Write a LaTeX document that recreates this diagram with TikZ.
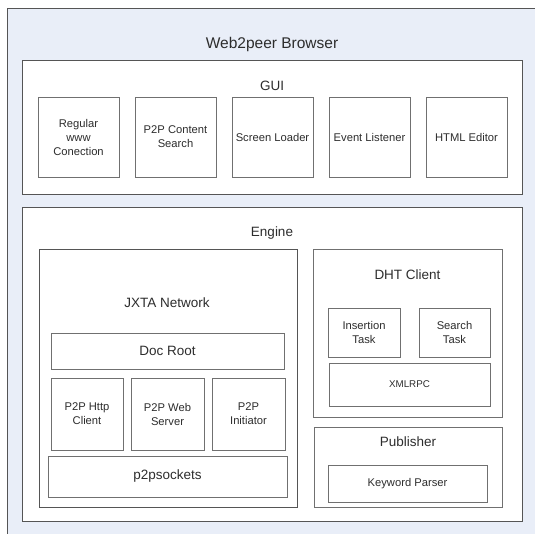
\documentclass[tikz,border=0pt]{standalone}
\usepackage{fontspec}
\setmainfont{Liberation Sans}
\definecolor{bgblue}{RGB}{233,238,248}
\definecolor{outline}{RGB}{85,85,85}
\definecolor{inline}{RGB}{112,112,112}
\definecolor{txt}{RGB}{45,45,45}
\begin{document}
\begin{tikzpicture}[x=1pt,y=-1pt,
  container/.style={draw=outline,fill=white,line width=0.9pt,inner sep=0pt,rectangle},
  part/.style={draw=inline,fill=white,line width=0.9pt,inner sep=0pt,rectangle,align=center,text=txt,font=\fontsize{11.2}{14}\selectfont},
  bigtitle/.style={text=txt,font=\fontsize{15.5}{18}\selectfont,inner sep=0pt},
  midtitle/.style={text=txt,font=\fontsize{13.5}{16}\selectfont,inner sep=0pt},
  midpart/.style={part,font=\fontsize{13.5}{16}\selectfont}]
\useasboundingbox (0,0) rectangle (535,533);
\begin{scope}
\clip (0,0) rectangle (535,533);
\node[draw=outline,fill=bgblue,line width=1pt,inner sep=0pt,minimum width=560pt,minimum height=560pt,anchor=north west] (browser) at (6.5,7.5) {};
\end{scope}
\node[bigtitle] (browsertitle) at (272,44) {Web2peer Browser};
% GUI
\node[container,minimum width=499.5pt,minimum height=133.5pt] (gui) at (272.25,127.25) {};
\node[midtitle] (guititle) at (272,86) {GUI};
\node[part,minimum width=81pt,minimum height=80pt] (regular) at (78.5,137) {Regular\\www\\Conection};
\node[part,minimum width=81pt,minimum height=80pt] (contentsearch) at (175.5,137) {P2P Content\\Search};
\node[part,minimum width=81pt,minimum height=80pt] (screenloader) at (272.5,137) {Screen Loader};
\node[part,minimum width=81pt,minimum height=80pt] (eventlistener) at (369.5,137) {Event Listener};
\node[part,minimum width=81pt,minimum height=80pt] (htmleditor) at (466.5,137) {HTML Editor};
% Engine
\node[container,minimum width=499.8pt,minimum height=313.5pt] (engine) at (272.6,364.25) {};
\node[midtitle] (enginetitle) at (272,233) {Engine};
% JXTA
\node[container,minimum width=258pt,minimum height=258pt] (jxta) at (168,378) {};
\node[midtitle] (jxtatitle) at (167,303) {JXTA Network};
\node[midpart,minimum width=233pt,minimum height=36pt] (docroot) at (167.5,351) {Doc Root};
\node[part,minimum width=72pt,minimum height=72pt] (httpclient) at (87,414) {P2P Http\\Client};
\node[part,minimum width=73pt,minimum height=72pt] (webserver) at (167.5,414) {P2P Web\\Server};
\node[part,minimum width=73pt,minimum height=72pt] (initiator) at (248.5,414) {P2P\\Initiator};
\node[midpart,minimum width=239pt,minimum height=41pt] (p2psockets) at (167.5,476.5) {p2psockets};
% DHT
\node[container,draw=inline,minimum width=189pt,minimum height=168pt] (dht) at (407.5,333) {};
\node[midtitle] (dhttitle) at (407.5,275) {DHT Client};
\node[part,minimum width=72pt,minimum height=49pt] (insertion) at (364,332.5) {Insertion\\Task};
\node[part,minimum width=71pt,minimum height=49pt] (searchtask) at (454.5,332.5) {Search\\Task};
\node[part,minimum width=161pt,minimum height=43pt,font=\fontsize{9.8}{12}\selectfont] (xmlrpc) at (409.5,384.5) {XMLRPC};
% Publisher
\node[container,draw=inline,minimum width=188pt,minimum height=80pt] (publisher) at (408,467) {};
\node[midtitle] (publishertitle) at (408,442) {Publisher};
\node[part,minimum width=159pt,minimum height=37pt] (keyword) at (407.5,483.5) {Keyword Parser};
\end{tikzpicture}
\end{document}
